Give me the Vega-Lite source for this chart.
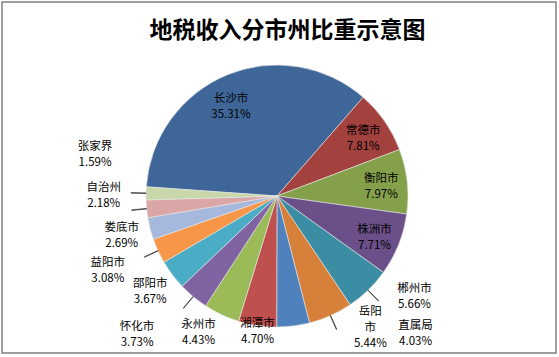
{
  "$schema": "https://vega.github.io/schema/vega-lite/v6.json",
  "autosize": {"type": "none"},
  "width": 554,
  "height": 351,
  "padding": {"left": 2, "top": 2, "right": 3, "bottom": 4},
  "background": "white",
  "config": {"view": {"stroke": null}},
  "title": {"text": "地税收入分市州比重示意图", "font": "Noto Sans CJK SC", "fontSize": 23, "fontWeight": "bold", "color": "#000000", "anchor": "middle", "frame": "group", "baseline": "middle", "offset": -53, "dx": 8.5},
  "data": {"values": [
    {"name": "长沙市", "share": 35.31},
    {"name": "常德市", "share": 7.81},
    {"name": "衡阳市", "share": 7.97},
    {"name": "株洲市", "share": 7.71},
    {"name": "郴州市", "share": 5.66},
    {"name": "岳阳市", "share": 5.44},
    {"name": "直属局", "share": 4.03},
    {"name": "湘潭市", "share": 4.70},
    {"name": "永州市", "share": 4.43},
    {"name": "怀化市", "share": 3.73},
    {"name": "邵阳市", "share": 3.67},
    {"name": "益阳市", "share": 3.08},
    {"name": "娄底市", "share": 2.69},
    {"name": "自治州", "share": 2.18},
    {"name": "张家界", "share": 1.59}
  ]},
  "transform": [
    {"window": [{"op": "sum", "field": "share", "as": "cum"}], "frame": [null, 0]},
    {"calculate": "datum.cum - datum.share", "as": "start"},
    {"calculate": "datum.cum - datum.share / 2", "as": "mid"},
    {"calculate": "datum.name === '岳阳市' ? ['岳阳', '市', format(datum.share, '.2f') + '%'] : [datum.name, format(datum.share, '.2f') + '%']", "as": "lbl"}
  ],
  "layer": [
    {
      "transform": [{"aggregate": [{"op": "count", "as": "n"}]}],
      "mark": {"type": "rect", "fill": null, "fillOpacity": 0, "stroke": "#808080", "strokeWidth": 1.5},
      "encoding": {}
    },
    {
      "mark": {"type": "arc", "radius": 131, "stroke": "#e6e6e6", "strokeWidth": 0.6, "xOffset": -2, "yOffset": 18.5},
      "encoding": {
        "theta": {"field": "start", "type": "quantitative", "stack": null, "scale": {"type": "linear", "domain": [0, 100], "range": [-1.50098, 4.78220], "zero": false, "nice": false}},
        "theta2": {"field": "cum"},
        "color": {"field": "name", "type": "nominal", "legend": null, "scale": {
          "domain": ["长沙市", "常德市", "衡阳市", "株洲市", "郴州市", "岳阳市", "直属局", "湘潭市", "永州市", "怀化市", "邵阳市", "益阳市", "娄底市", "自治州", "张家界"],
          "range": ["#3E6698", "#A2413E", "#85A04B", "#6A4F89", "#3B8DA4", "#D6803A", "#4F81BD", "#C0504D", "#9BBB59", "#8064A2", "#4BACC6", "#F79646", "#A6B8DB", "#DBA7A6", "#C8D8AB"]}}
      }
    },
    {
      "transform": [{"filter": {"field": "name", "oneOf": ["郴州市", "岳阳市", "怀化市", "益阳市", "自治州", "张家界"]}}],
      "mark": {"type": "arc", "radius": 146, "radius2": 131, "theta2Offset": 0.003, "fill": null, "fillOpacity": 0, "stroke": "#333333", "strokeWidth": 0.8, "xOffset": -2, "yOffset": 18.5},
      "encoding": {
        "theta": {"field": "mid", "type": "quantitative", "stack": null},
        "theta2": {"field": "mid"}
      }
    },
    {
      "transform": [{"filter": {"field": "name", "oneOf": ["常德市", "衡阳市", "株洲市"]}}],
      "mark": {"type": "text", "radius": 105, "dy": -5, "xOffset": -2, "yOffset": 18.5, "font": "Noto Sans CJK SC", "fontSize": 11.5, "lineHeight": 16, "color": "#000000", "align": "center", "baseline": "middle"},
      "encoding": {"theta": {"field": "mid", "type": "quantitative", "stack": null}, "text": {"field": "lbl"}}
    },
    {
      "transform": [{"filter": {"field": "name", "equal": "长沙市"}}],
      "mark": {"type": "text", "radius": 105, "dx": -6, "dy": 0, "xOffset": -2, "yOffset": 18.5, "font": "Noto Sans CJK SC", "fontSize": 11.5, "lineHeight": 16, "color": "#000000", "align": "center", "baseline": "middle"},
      "encoding": {"theta": {"field": "mid", "type": "quantitative", "stack": null}, "text": {"field": "lbl"}}
    },
    {
      "transform": [{"filter": {"field": "name", "equal": "郴州市"}}],
      "mark": {"type": "text", "radius": 150, "dx": 33, "dy": -15, "xOffset": -2, "yOffset": 18.5, "font": "Noto Sans CJK SC", "fontSize": 11.5, "lineHeight": 16, "color": "#000000", "align": "center", "baseline": "middle"},
      "encoding": {"theta": {"field": "mid", "type": "quantitative", "stack": null}, "text": {"field": "lbl"}}
    },
    {
      "transform": [{"filter": {"field": "name", "equal": "岳阳市"}}],
      "mark": {"type": "text", "radius": 150, "dx": 32, "dy": -21, "xOffset": -2, "yOffset": 18.5, "font": "Noto Sans CJK SC", "fontSize": 11.5, "lineHeight": 16, "color": "#000000", "align": "center", "baseline": "middle"},
      "encoding": {"theta": {"field": "mid", "type": "quantitative", "stack": null}, "text": {"field": "lbl"}}
    },
    {
      "transform": [{"filter": {"field": "name", "equal": "直属局"}}],
      "mark": {"type": "text", "radius": 150, "dx": 120, "dy": -19, "xOffset": -2, "yOffset": 18.5, "font": "Noto Sans CJK SC", "fontSize": 11.5, "lineHeight": 16, "color": "#000000", "align": "center", "baseline": "middle"},
      "encoding": {"theta": {"field": "mid", "type": "quantitative", "stack": null}, "text": {"field": "lbl"}}
    },
    {
      "transform": [{"filter": {"field": "name", "equal": "湘潭市"}}],
      "mark": {"type": "text", "radius": 150, "dx": 3, "dy": -20, "xOffset": -2, "yOffset": 18.5, "font": "Noto Sans CJK SC", "fontSize": 11.5, "lineHeight": 16, "color": "#000000", "align": "center", "baseline": "middle"},
      "encoding": {"theta": {"field": "mid", "type": "quantitative", "stack": null}, "text": {"field": "lbl"}}
    },
    {
      "transform": [{"filter": {"field": "name", "equal": "永州市"}}],
      "mark": {"type": "text", "radius": 150, "dx": -15, "dy": -7, "xOffset": -2, "yOffset": 18.5, "font": "Noto Sans CJK SC", "fontSize": 11.5, "lineHeight": 16, "color": "#000000", "align": "center", "baseline": "middle"},
      "encoding": {"theta": {"field": "mid", "type": "quantitative", "stack": null}, "text": {"field": "lbl"}}
    },
    {
      "transform": [{"filter": {"field": "name", "equal": "怀化市"}}],
      "mark": {"type": "text", "radius": 150, "dx": -44, "dy": 16, "xOffset": -2, "yOffset": 18.5, "font": "Noto Sans CJK SC", "fontSize": 11.5, "lineHeight": 16, "color": "#000000", "align": "center", "baseline": "middle"},
      "encoding": {"theta": {"field": "mid", "type": "quantitative", "stack": null}, "text": {"field": "lbl"}}
    },
    {
      "transform": [{"filter": {"field": "name", "equal": "邵阳市"}}],
      "mark": {"type": "text", "radius": 150, "dx": -7, "dy": -2, "xOffset": -2, "yOffset": 18.5, "font": "Noto Sans CJK SC", "fontSize": 11.5, "lineHeight": 16, "color": "#000000", "align": "center", "baseline": "middle"},
      "encoding": {"theta": {"field": "mid", "type": "quantitative", "stack": null}, "text": {"field": "lbl"}}
    },
    {
      "transform": [{"filter": {"field": "name", "equal": "益阳市"}}],
      "mark": {"type": "text", "radius": 150, "dx": -33, "dy": 4, "xOffset": -2, "yOffset": 18.5, "font": "Noto Sans CJK SC", "fontSize": 11.5, "lineHeight": 16, "color": "#000000", "align": "center", "baseline": "middle"},
      "encoding": {"theta": {"field": "mid", "type": "quantitative", "stack": null}, "text": {"field": "lbl"}}
    },
    {
      "transform": [{"filter": {"field": "name", "equal": "娄底市"}}],
      "mark": {"type": "text", "radius": 150, "dx": -10, "dy": -5, "xOffset": -2, "yOffset": 18.5, "font": "Noto Sans CJK SC", "fontSize": 11.5, "lineHeight": 16, "color": "#000000", "align": "center", "baseline": "middle"},
      "encoding": {"theta": {"field": "mid", "type": "quantitative", "stack": null}, "text": {"field": "lbl"}}
    },
    {
      "transform": [{"filter": {"field": "name", "equal": "自治州"}}],
      "mark": {"type": "text", "radius": 150, "dx": -24, "dy": -23, "xOffset": -2, "yOffset": 18.5, "font": "Noto Sans CJK SC", "fontSize": 11.5, "lineHeight": 16, "color": "#000000", "align": "center", "baseline": "middle"},
      "encoding": {"theta": {"field": "mid", "type": "quantitative", "stack": null}, "text": {"field": "lbl"}}
    },
    {
      "transform": [{"filter": {"field": "name", "equal": "张家界"}}],
      "mark": {"type": "text", "radius": 150, "dx": -32, "dy": -46, "xOffset": -2, "yOffset": 18.5, "font": "Noto Sans CJK SC", "fontSize": 11.5, "lineHeight": 16, "color": "#000000", "align": "center", "baseline": "middle"},
      "encoding": {"theta": {"field": "mid", "type": "quantitative", "stack": null}, "text": {"field": "lbl"}}
    }
  ]
}
